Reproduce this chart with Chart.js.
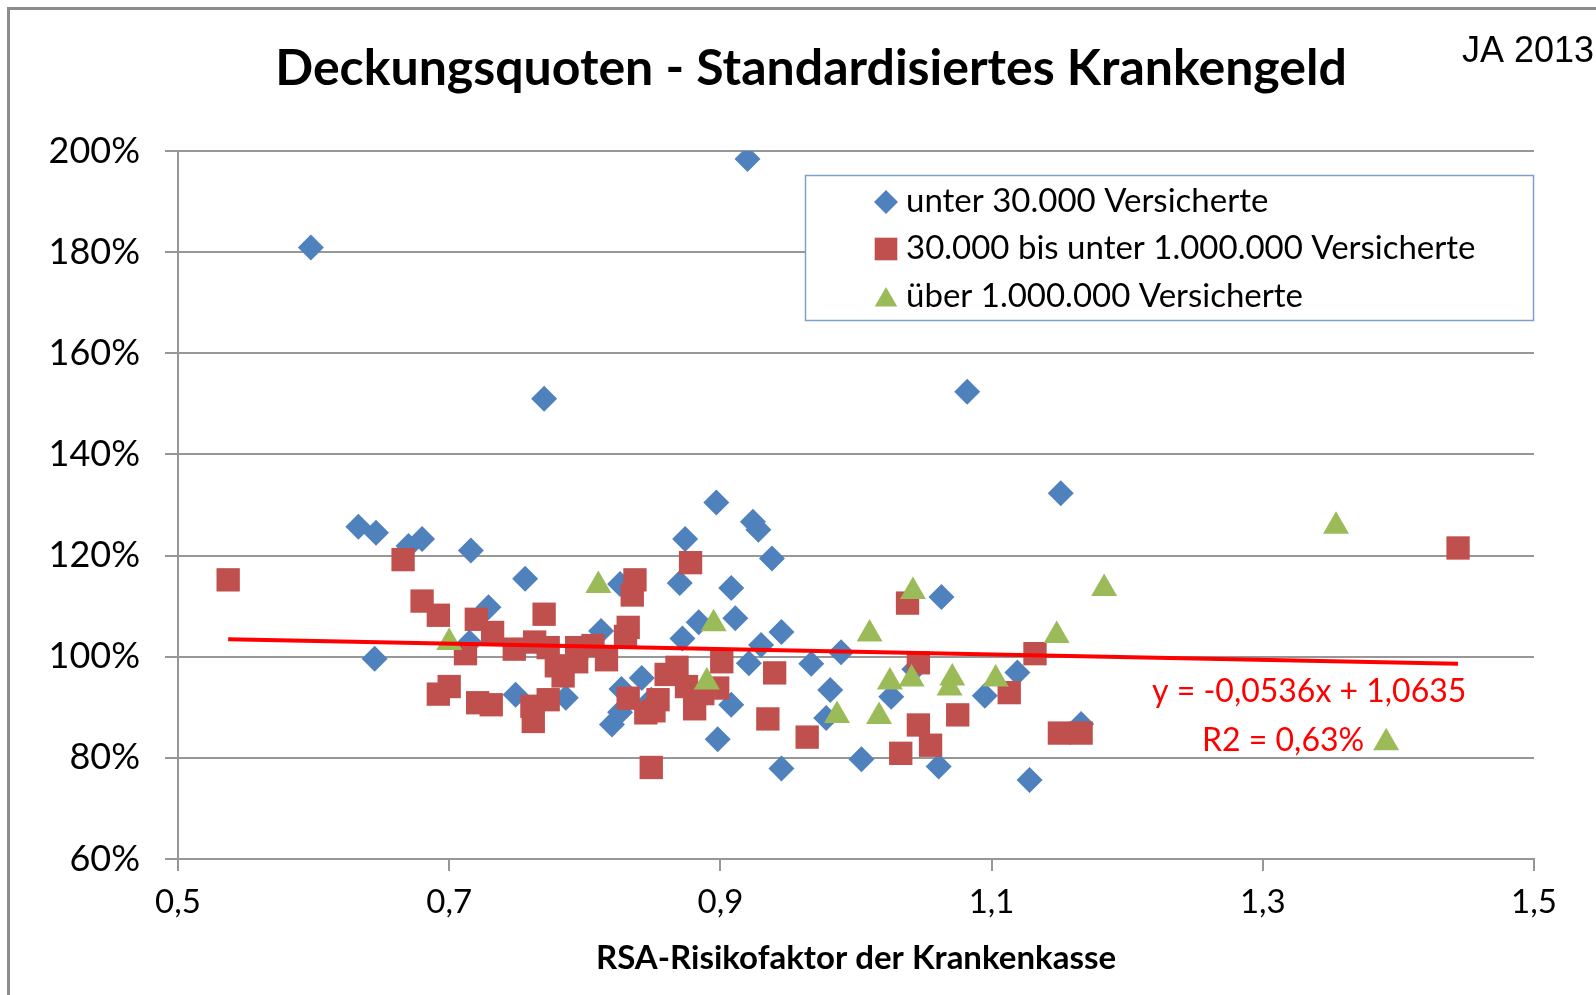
<!DOCTYPE html>
<html lang="de">
<head>
<meta charset="utf-8">
<title>Deckungsquoten - Standardisiertes Krankengeld</title>
<script src="https://cdn.jsdelivr.net/npm/chart.js@4/dist/chart.umd.min.js"></script>
<style>
  html, body { margin: 0; padding: 0; background: #fff; }
  canvas { display: block; }
</style>
</head>
<body>
<canvas id="chart" width="1596" height="995"></canvas>
<script>
// ---- data (x = RSA-Risikofaktor, y = Deckungsquote as fraction) ----
const chartTitle = 'Deckungsquoten - Standardisiertes Krankengeld';
const yearLabel = 'JA 2013';
const xAxisTitle = 'RSA-Risikofaktor der Krankenkasse';
const seriesNames = ['unter 30.000 Versicherte', '30.000 bis unter 1.000.000 Versicherte', 'über 1.000.000 Versicherte'];

const smallX = [0.598, 0.920, 0.770, 1.082, 1.151, 0.633, 0.646, 0.670, 0.680, 0.716, 0.729, 0.756, 0.645,
  0.715, 0.749, 0.786, 0.812, 0.826, 0.820, 0.827, 0.842, 0.874, 0.870, 0.872, 0.884, 0.897, 0.898, 0.908,
  0.911, 0.908, 0.924, 0.928, 0.938, 0.921, 0.930, 0.945, 0.945, 0.967, 0.981, 0.978, 0.989, 1.004, 1.026,
  1.043, 1.063, 1.061, 1.095, 1.119, 1.128, 1.166, 0.826, 0.849];
const smallY = [1.809, 1.984, 1.510, 1.524, 1.323, 1.257, 1.245, 1.219, 1.233, 1.210, 1.098, 1.154, 0.996,
  1.028, 0.925, 0.919, 1.051, 1.144, 0.866, 0.936, 0.958, 1.233, 1.146, 1.036, 1.068, 1.305, 0.837, 1.136,
  1.076, 0.905, 1.267, 1.251, 1.194, 0.987, 1.023, 1.049, 0.779, 0.986, 0.934, 0.879, 1.009, 0.797, 0.921,
  0.975, 1.118, 0.783, 0.923, 0.969, 0.756, 0.867, 0.890, 0.915];

const midX = [0.537, 1.444, 0.666, 0.680, 0.692, 0.720, 0.732, 0.712, 0.692, 0.700, 0.721, 0.731, 0.748,
  0.770, 0.837, 0.835, 0.832, 0.878, 0.763, 0.773, 0.779, 0.784, 0.794, 0.794, 0.806, 0.816, 0.830, 0.761,
  0.762, 0.773, 0.832, 0.845, 0.854, 0.851, 0.849, 0.868, 0.860, 0.875, 0.881, 0.898, 0.901, 0.940, 0.935,
  0.964, 0.887, 1.038, 1.046, 1.132, 1.113, 1.075, 1.046, 1.055, 1.033, 1.150, 1.166];
const midY = [1.152, 1.215, 1.192, 1.110, 1.082, 1.074, 1.048, 1.006, 0.926, 0.941, 0.909, 0.905, 1.015,
  1.084, 1.152, 1.122, 1.058, 1.186, 1.029, 1.018, 0.982, 0.962, 0.990, 1.018, 1.022, 0.994, 1.040, 0.902,
  0.872, 0.915, 0.918, 0.889, 0.915, 0.893, 0.781, 0.979, 0.965, 0.941, 0.897, 0.938, 0.990, 0.968, 0.877,
  0.841, 0.927, 1.106, 0.988, 1.006, 0.929, 0.885, 0.865, 0.825, 0.809, 0.849, 0.849];

const largeX = [0.700, 0.810, 0.895, 0.890, 1.042, 1.010, 1.148, 1.183, 1.025, 1.041, 1.071, 1.069, 1.103,
  0.986, 1.017, 1.354, 1.391];
const largeY = [1.028, 1.141, 1.065, 0.950, 1.129, 1.045, 1.042, 1.135, 0.950, 0.956, 0.958, 0.938, 0.956,
  0.884, 0.882, 1.258, 0.830];

// linear trend as stated in the chart: y = -0,0536x + 1,0635
const trendCoef = [-0.0536, 1.0635];
const trendText = ['y = -0,0536x + 1,0635', 'R2 = 0,63%'];

const xTicks = [0.5, 1.5, 0.2];
const yTicks = [0.6, 2.0, 0.2];

// ---- helpers ----
const toPoints = (xs, ys) => xs.map((x, i) => ({ x, y: ys[i] }));
const allX = [...smallX, ...midX, ...largeX];
const xMin = Math.min(...allX), xMax = Math.max(...allX);
const trendPoints = [xMin, xMax].map(x => ({ x, y: trendCoef[0] * x + trendCoef[1] }));

const BLUE = '#4F81BD', RED = '#C0504D', GREEN = '#9BBB59', GRID = '#979797';

const decorations = {
    id: 'decorations',
    afterDraw(chart) {
        const ctx = chart.ctx;
        ctx.save();

        // outer chart frame (left + top visible)
        ctx.strokeStyle = '#8c8c8c';
        ctx.lineWidth = 3;
        ctx.beginPath();
        ctx.moveTo(8.5, 995);
        ctx.lineTo(8.5, 8.5);
        ctx.lineTo(1596, 8.5);
        ctx.stroke();

        // title
        ctx.fillStyle = '#000';
        ctx.textAlign = 'center';
        ctx.textBaseline = 'alphabetic';
        ctx.font = 'bold 50px Lato';
        ctx.fillText(chartTitle, 811, 85);

        // year label
        ctx.textAlign = 'left';
        ctx.font = '36px "Liberation Sans"';
        ctx.fillText(yearLabel, 1462, 62);

        // legend box (white fill hides gridlines)
        ctx.fillStyle = '#fff';
        ctx.fillRect(805.5, 175.5, 728, 145);
        ctx.strokeStyle = '#7b9fd0';
        ctx.lineWidth = 1.5;
        ctx.strokeRect(805.5, 175.5, 728, 145);
        const rows = [212, 259, 307];
        seriesNames.forEach((name, i) => {
            const ds = chart.data.datasets.find(d => d.label === name);
            ctx.fillStyle = ds.backgroundColor;
            const r = { rectRot: 12, rect: 16, triangle: 13 }[ds.pointStyle];
            const dy = ds.pointStyle === 'triangle' ? 3 : 0;
            Chart.helpers.drawPoint(ctx, { pointStyle: ds.pointStyle, radius: r, rotation: 0, borderWidth: 0 }, 886, rows[i] - 10 + dy);
            ctx.fillStyle = '#000';
            ctx.font = '33px Lato';
            ctx.fillText(ds.label, 906, rows[i]);
        });

        // trend equation
        ctx.fillStyle = '#ff0000';
        ctx.font = '32px Lato';
        ctx.fillText(trendText[0], 1152, 702);
        ctx.fillText(trendText[1], 1202, 751);

        ctx.restore();
    }
};

const markerBase = { borderWidth: 0, pointHoverRadius: 0 };

new Chart(document.getElementById('chart'), {
    type: 'scatter',
    data: {
        datasets: [
            { label: 'Trend', data: trendPoints, showLine: true, borderColor: '#ff0000', borderWidth: 4,
              pointRadius: 0, order: 0 },
            { ...markerBase, label: seriesNames[2], data: toPoints(largeX, largeY), pointStyle: 'triangle',
              backgroundColor: GREEN, pointRadius: 15, order: 1 },
            { ...markerBase, label: seriesNames[1], data: toPoints(midX, midY), pointStyle: 'rect',
              backgroundColor: RED, pointRadius: 16.5, order: 2 },
            { ...markerBase, label: seriesNames[0], data: toPoints(smallX, smallY), pointStyle: 'rectRot',
              backgroundColor: BLUE, pointRadius: 13, order: 3 }
        ]
    },
    options: {
        responsive: false,
        animation: false,
        layout: { padding: { left: 10, right: 62, top: 151, bottom: 0 } },
        plugins: { legend: { display: false }, tooltip: { enabled: false }, title: { display: false } },
        scales: {
            x: {
                type: 'linear', min: xTicks[0], max: xTicks[1],
                afterFit: scale => { scale.height = 136; },
                ticks: { stepSize: xTicks[2], padding: 12, color: '#000', font: { family: 'Lato', size: 33 },
                         callback: v => v.toFixed(1).replace('.', ',') },
                grid: { drawOnChartArea: false, tickLength: 12, color: GRID, lineWidth: 2 },
                border: { display: true, color: GRID, width: 2 },
                title: { display: true, text: xAxisTitle, color: '#000', padding: { top: 0, bottom: 17 },
                         font: { family: 'Lato', size: 33, weight: 'bold' } }
            },
            y: {
                min: yTicks[0], max: yTicks[1],
                afterFit: scale => { scale.width = 168; },
                ticks: { stepSize: yTicks[2], padding: 25, color: '#000', font: { family: 'Lato', size: 36 },
                         callback: v => Math.round(v * 100) + '%' },
                grid: { tickLength: 13, color: GRID, lineWidth: 2 },
                border: { display: true, color: GRID, width: 2 }
            }
        }
    },
    plugins: [decorations]
});
</script>
</body>
</html>
